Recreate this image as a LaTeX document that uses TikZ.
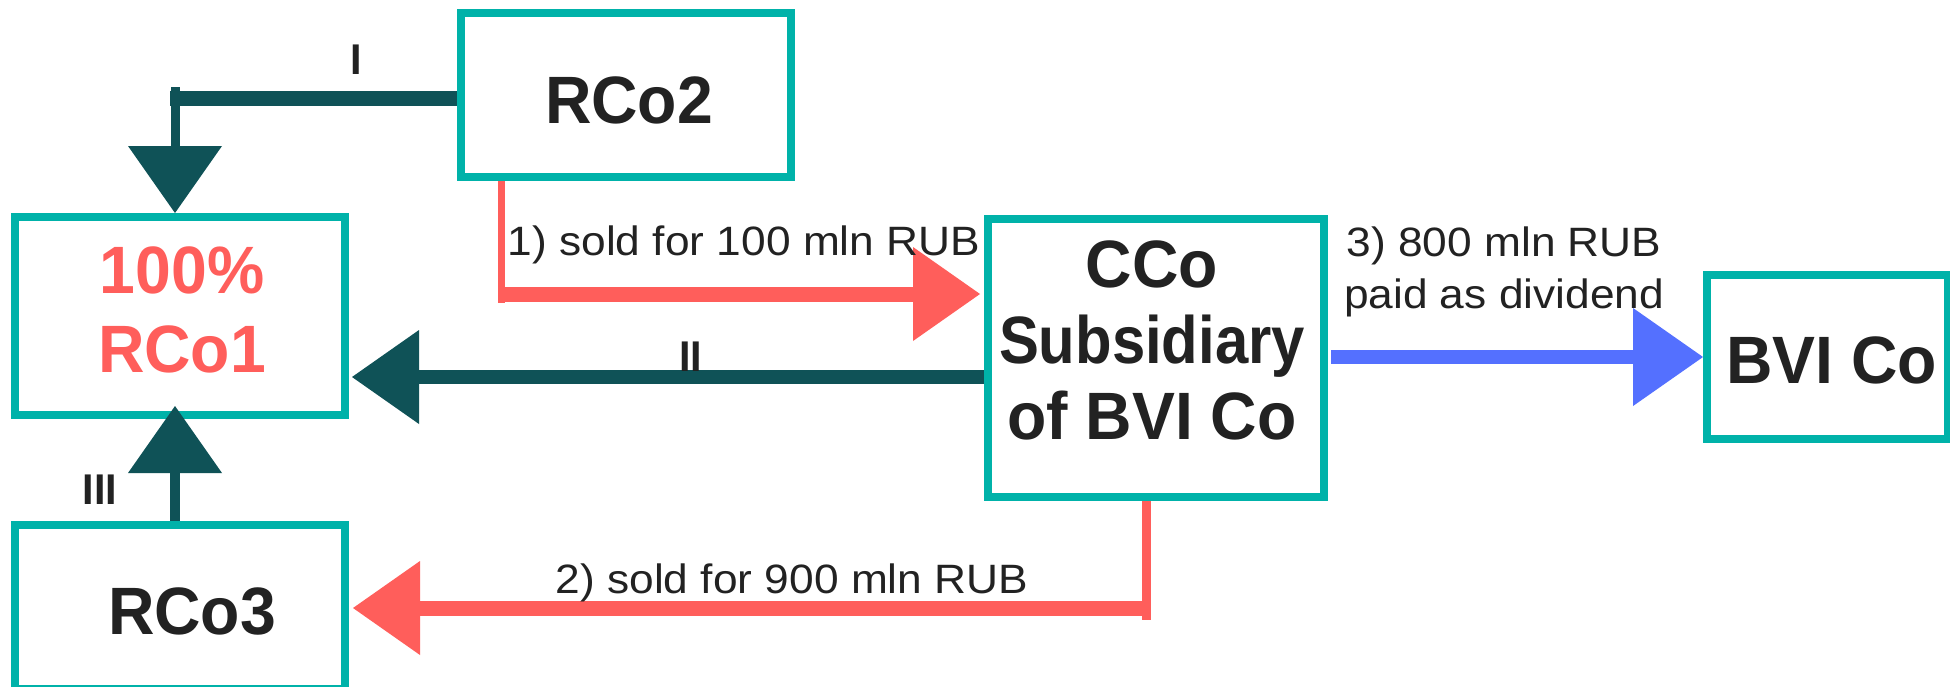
\documentclass[tikz,border=0pt]{standalone}
\usepackage{fontspec}
\usepackage{graphicx}
\setmainfont{Liberation Sans}
\newfontfamily\boxfont[FakeStretch=0.96]{Liberation Sans}
\newfontfamily\lblfont[FakeStretch=1.08]{Liberation Sans}
\usetikzlibrary{arrows.meta}

\definecolor{boxteal}{RGB}{0,178,169}
\definecolor{darkteal}{RGB}{15,82,87}
\definecolor{salmon}{RGB}{255,94,91}
\definecolor{royal}{RGB}{84,112,255}
\definecolor{ink}{RGB}{34,34,34}

\begin{document}
\begin{tikzpicture}[x=1pt,y=-1pt,
  firm/.style={draw=boxteal, line width=8pt, inner sep=0pt},
  boxtext/.style={text=ink, inner sep=0pt, align=center,
    font=\boxfont\bfseries\fontsize{67}{79}\selectfont},
  lbl/.style={text=ink, inner sep=0pt, align=center,
    font=\lblfont\fontsize{41}{52}\selectfont},
  roman/.style={text=ink, inner sep=0pt,
    font=\boxfont\bfseries\fontsize{43}{50}\selectfont},
  bigtip/.style={-{Triangle[length=67pt,width=94pt,line width=0pt]}},
  widetip/.style={-{Triangle[length=70pt,width=98pt,line width=0pt]}}
]
\clip (0,0) rectangle (1950,686);
\fill[white] (0,0) rectangle (1950,686);

% company boxes
\node[firm, minimum width=330pt, minimum height=164pt] (rco2) at (626,95) {};
\node[firm, minimum width=330pt, minimum height=198pt] (rco1) at (180,316) {};
\node[firm, minimum width=330pt, minimum height=164pt] (rco3) at (180,607) {};
\node[firm, minimum width=336pt, minimum height=278pt] (cco) at (1156,358) {};
\node[firm, minimum width=241pt, minimum height=164pt] (bvi) at (1827.5,357) {};

% box captions
\node[boxtext] (rco2txt) at (629,100) {RCo2};
\node[boxtext, text=salmon] (rco1txt) at (182,310) {100\%\\RCo1};
\node[boxtext] (rco3txt) at (192,611) {RCo3};
\node[boxtext, font=\boxfont\bfseries\fontsize{67}{76}\selectfont] (ccotxt) at (1152,340)
  {CCo\\\scalebox{0.93}[1]{Subsidiary}\\of BVI Co};
\node[boxtext, anchor=west] (bvitxt) at (1726,360.5) {BVI Co};

% ownership links I, II, III
\coordinate (bendI) at (175,98);
\draw[darkteal, line width=15pt] (rco2.west |- bendI) -- ([xshift=-5pt]bendI);
\draw[darkteal, line width=9pt, bigtip] ([yshift=11pt]bendI) -- (rco1.north -| bendI);
\node[roman] (nI) at (356.5,60) {I};

\coordinate (levelII) at (0,377);
\draw[darkteal, line width=14pt, bigtip] (cco.west |- levelII) -- ([xshift=3pt]rco1.east |- levelII);
\node[roman] (nII) at (690.5,357) {II};

\draw[darkteal, line width=10pt, bigtip] ([xshift=-5pt]rco3.north) -- ([xshift=-5pt,yshift=13pt]rco1.south);
\node[roman] (nIII) at (100,490) {III};

% sale 1: RCo2 to CCo
\coordinate (bend1) at (501,294);
\draw[salmon, line width=7pt] (rco2.south -| bend1) -- ([yshift=-9pt]bend1);
\draw[salmon, line width=15pt, bigtip] ([xshift=-3pt]bend1) -- ([xshift=-4pt]cco.west |- bend1);
\node[lbl, anchor=base] (l1) at (744,255) {1) sold for 100 mln RUB};

% sale 2: CCo to RCo3
\coordinate (bend2) at (1146,608);
\draw[salmon, line width=9pt] (cco.south -| bend2) -- ([yshift=-12pt]bend2);
\draw[salmon, line width=15pt, bigtip] ([xshift=4pt]bend2) -- ([xshift=4pt]rco3.east |- bend2);
\node[lbl, anchor=base] (l2) at (792,593) {2) sold for 900 mln RUB};

% dividend: CCo to BVI Co
\draw[royal, line width=14pt, widetip] ([xshift=3pt]cco.east |- bvi.west) -- (bvi.west);
\node[lbl] (l3) at (1504,271.5) {3) 800 mln RUB\\paid as dividend};
\end{tikzpicture}
\end{document}
